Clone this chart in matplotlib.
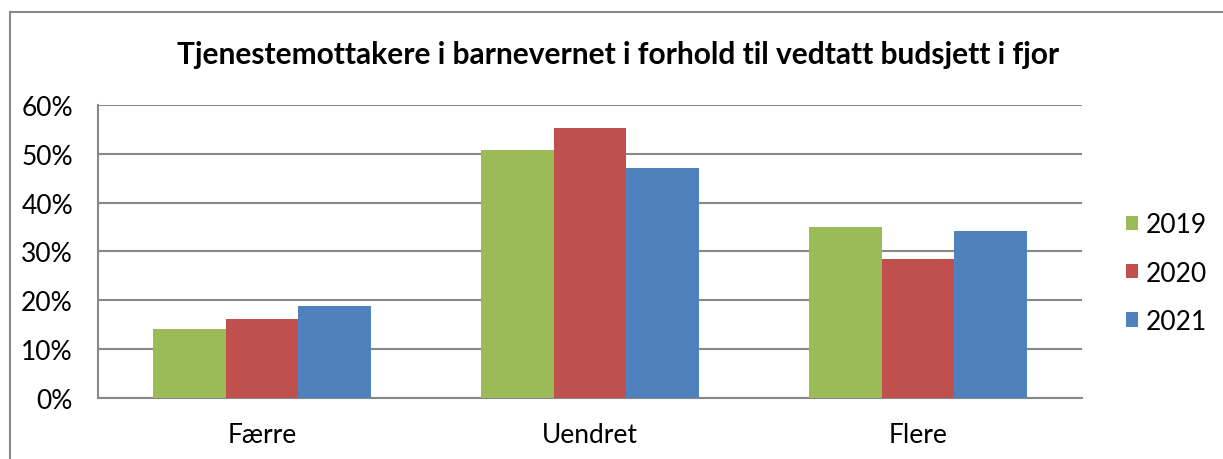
import matplotlib.pyplot as plt
import numpy as np
from matplotlib.patches import Rectangle

categories = ['Færre', 'Uendret', 'Flere']
years = ['2019', '2020', '2021']
v2019 = [14.1, 50.8, 35.1]
v2020 = [16.2, 55.3, 28.5]
v2021 = [18.8, 47.0, 34.1]
colors = ['#9BBB59', '#C0504D', '#4F81BD']

plt.rcParams['font.family'] = ['Lato', 'DejaVu Sans']

fig = plt.figure(figsize=(12.23, 4.6), dpi=100)
ax = fig.add_axes([0.0801, 0.1326, 0.8046, 0.637])

# outer chart frame (only left and top visible)
fig.patches.append(Rectangle((0.0082, -0.1), 1.2, 1.0717, transform=fig.transFigure,
                             fill=False, edgecolor='#888888', linewidth=1.5))

x = np.arange(len(categories))
w = 0.222
for i, (vals, lab) in enumerate(zip([v2019, v2020, v2021], years)):
    ax.bar(x + (i - 1) * w, vals, width=w, color=colors[i], label=lab, zorder=3)

ax.set_xlim(-0.5, 2.5)
ax.set_ylim(0, 60)
ax.set_yticks(np.arange(0, 61, 10))
ax.set_yticklabels([f'{t}%' for t in range(0, 61, 10)])
ax.set_xticks(x)
ax.set_xticklabels(categories)
ax.tick_params(axis='both', length=0, labelsize=19, colors='black')
ax.tick_params(axis='y', pad=18)
ax.tick_params(axis='x', pad=17)
ax.grid(axis='y', color='#888888', linewidth=1.5, zorder=0)
for s in ['top', 'right']:
    ax.spines[s].set_visible(False)
ax.spines['left'].set_color('#888888')
ax.spines['bottom'].set_color('#888888')
ax.spines['left'].set_linewidth(1.5)
ax.spines['bottom'].set_linewidth(1.5)

fig.text(0.505, 0.88, 'Tjenestemottakere i barnevernet i forhold til vedtatt budsjett i fjor',
         ha='center', va='center', fontsize=21.5, fontweight='bold')

fig.legend(loc='center left', bbox_to_anchor=(0.921, 0.404), frameon=False,
           fontsize=19, handlelength=0.45, handleheight=0.45, handletextpad=0.3,
           labelspacing=0.88, borderpad=0, borderaxespad=0)

fig.savefig('out.png', dpi=100)
